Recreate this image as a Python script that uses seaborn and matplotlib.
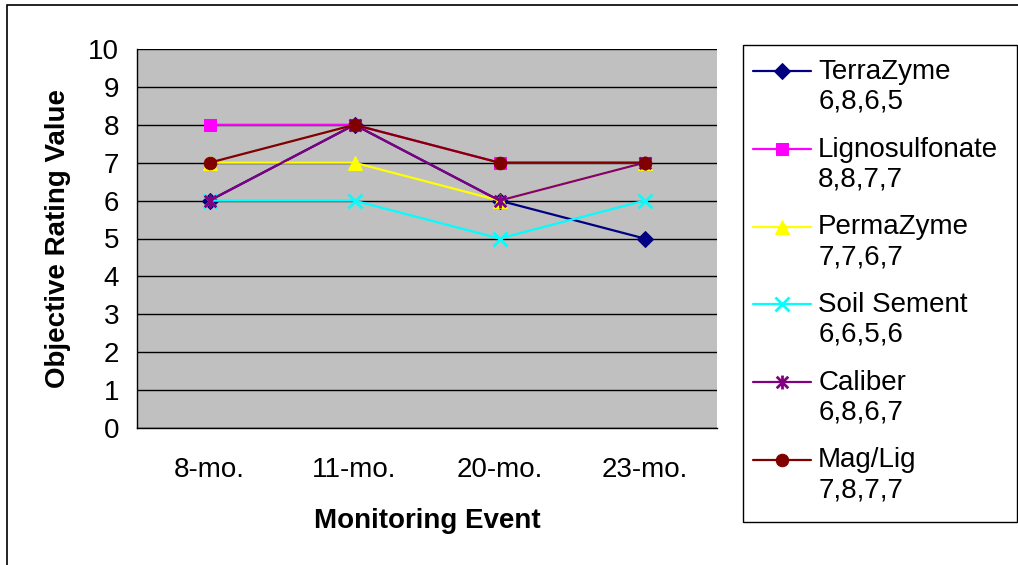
import matplotlib
matplotlib.use("Agg")
import matplotlib.pyplot as plt
import matplotlib.patches as mpatches
from matplotlib.path import Path
from matplotlib.legend_handler import HandlerLine2D
import seaborn as sns
import pandas as pd

events = ["8-mo.", "11-mo.", "20-mo.", "23-mo."]
series_names = ["TerraZyme", "Lignosulfonate", "PermaZyme", "Soil Sement", "Caliber", "Mag/Lig"]
terrazyme = [6, 8, 6, 5]
lignosulfonate = [8, 8, 7, 7]
permazyme = [7, 7, 6, 7]
soil_sement = [6, 6, 5, 6]
caliber = [6, 8, 6, 7]
mag_lig = [7, 8, 7, 7]
values = [terrazyme, lignosulfonate, permazyme, soil_sement, caliber, mag_lig]
colors = ["#000080", "#FF00FF", "#FFFF00", "#00FFFF", "#800080", "#800000"]

asterisk = Path([(-1, -1), (1, 1), (-1, 1), (1, -1), (0, -1.2), (0, 1.2)],
                [Path.MOVETO, Path.LINETO, Path.MOVETO, Path.LINETO, Path.MOVETO, Path.LINETO])
markers = ["D", "s", "^", "x", asterisk, "o"]
msizes = [8, 8.5, 10, 10, 10, 9]


class TopHandler(HandlerLine2D):
    def create_artists(self, legend, orig_handle, xdescent, ydescent, width, height, fontsize, trans):
        arts = super().create_artists(legend, orig_handle, xdescent, ydescent, width, height, fontsize, trans)
        for a in arts:
            a.set_ydata([y + 11.5 for y in a.get_ydata()])
        return arts


sns.set_style("white")
plt.rcParams['font.family'] = ['Liberation Sans', 'DejaVu Sans']
plt.rcParams['text.color'] = 'black'
plt.rcParams['axes.labelcolor'] = 'black'
plt.rcParams['xtick.color'] = 'black'
plt.rcParams['ytick.color'] = 'black'
FS = 20

fig = plt.figure(figsize=(10.18, 5.65), dpi=100)
ax = fig.add_axes([137/1018, 1-428/565, (717-137)/1018, (428-49)/565])
ax.set_facecolor("#C0C0C0")

pos = list(range(len(events)))
for i, (name, vals, c, m, ms) in enumerate(zip(series_names, values, colors, markers, msizes)):
    df = pd.DataFrame({"x": pos, "y": vals})
    label = f"{name}\n{','.join(str(v) for v in vals)}"
    mk = dict(marker=m, markersize=ms, markerfacecolor=c, markeredgecolor=c)
    if i in (3, 4):
        mk["markeredgewidth"] = 2
    sns.lineplot(data=df, x="x", y="y", ax=ax, color=c, linewidth=1.6,
                 label=label, **mk)

ax.set_xlim(-0.5, 3.5)
ax.set_ylim(0, 10)
ax.set_yticks(range(0, 11))
ax.yaxis.grid(True, color="black", linewidth=1)
ax.xaxis.grid(False)
ax.set_axisbelow(True)
ax.set_xticks(pos)
ax.set_xticklabels(events)
ax.set_xticks([-0.5, 0.5, 1.5, 2.5, 3.5], minor=True)
ax.tick_params(axis="x", which="major", length=0, pad=21, labelsize=FS)
ax.tick_params(axis="x", which="minor", length=6, width=1, color="black", direction="out")
ax.tick_params(axis="y", length=6, width=1, color="black", direction="out", labelsize=FS, pad=7)
for s in ["top", "right"]:
    ax.spines[s].set_visible(False)
for s in ["left", "bottom"]:
    ax.spines[s].set_color("black")
    ax.spines[s].set_linewidth(1)

ax.set_xlabel("Monitoring Event", fontsize=FS, fontweight="bold", labelpad=18)
ax.set_ylabel("Objective Rating Value", fontsize=FS, fontweight="bold", labelpad=12)

handles, labels = ax.get_legend_handles_labels()
leg = ax.legend(handles, labels, loc="upper left", bbox_to_anchor=(739/1018, 1-45/565),
                bbox_transform=fig.transFigure, frameon=False,
                fontsize=FS, handlelength=2.1, handletextpad=0.25,
                labelspacing=0.78, borderpad=0.5, borderaxespad=0,
                handler_map={h: TopHandler() for h in handles})

fig.patches.append(mpatches.Rectangle((743/1018, 1-522/565), (1017-743)/1018, (522-45)/565,
                                      transform=fig.transFigure, fill=False,
                                      edgecolor="black", linewidth=1))
fig.patches.append(mpatches.Rectangle((7/1018, -0.01), 1.02, 1-5/565+0.01,
                                      transform=fig.transFigure, fill=False,
                                      edgecolor="black", linewidth=1.2))

fig.savefig("out.png", dpi=100)
